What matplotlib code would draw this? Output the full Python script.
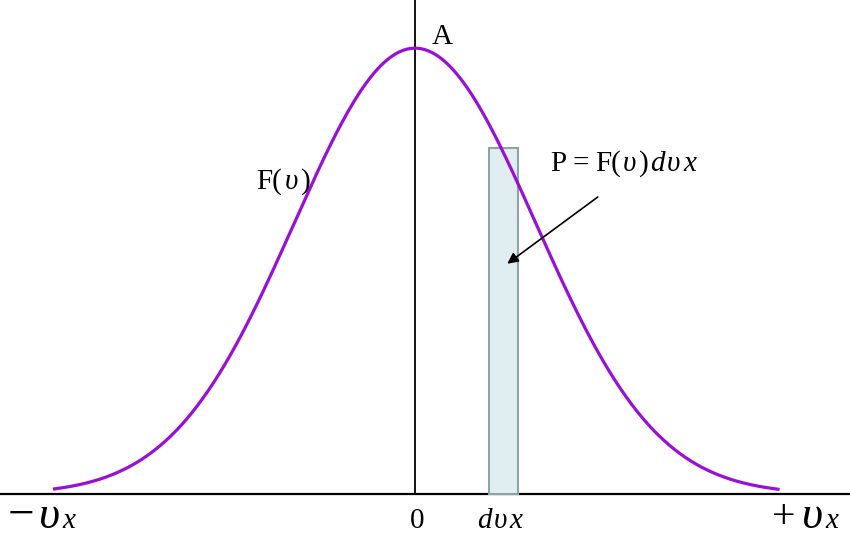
import numpy as np
import matplotlib.pyplot as plt
from matplotlib.patches import Rectangle

# распределение (нормированная гауссиана, sigma = 1)
v = np.linspace(-2.98, 3.0, 400)
F = np.exp(-v ** 2 / 2)

# полоска dv
bar_left = 0.61
bar_width = 0.24
bar_height = 0.776

plt.rcParams['font.family'] = ['Liberation Serif', 'DejaVu Serif']

fig = plt.figure(figsize=(8.5, 5.49), dpi=100)
ax = fig.add_axes([0, 0, 1, 1])
ax.set_xlim(-3.43, 3.595)
ax.set_ylim(-0.123, 1.108)
ax.axis('off')
renderer = fig.canvas.get_renderer()

# оси
ax.axhline(0, color='black', lw=1.6)
ax.axvline(0, ymin=0.1, ymax=1, color='black', lw=1.3)

ax.add_patch(Rectangle((bar_left, 0), bar_width, bar_height,
                       facecolor='#e1eef1', edgecolor='#8ea3a6', lw=1.5, zorder=2))
ax.plot(v, F, color='#9a0fd6', lw=2.3, zorder=3)

ax.annotate('', xy=(0.744, 0.513), xytext=(1.529, 0.670),
            arrowprops=dict(arrowstyle='-|>', color='black', lw=1.2,
                            mutation_scale=16), zorder=4)


def chain(x, y, pieces):
    # кусочки текста подряд, каждый со своим стилем
    for s, size, style, gap in pieces:
        t = ax.text(x, y, s, fontsize=size, style=style, va='baseline')
        bb = t.get_window_extent(renderer)
        px = ax.transData.transform((x, y))[0] + bb.width + gap
        x = ax.transData.inverted().transform((px, 0))[0]


fs = 21
base = -0.075

chain(-3.37, base, [('−', 34, 'normal', 5), ('υ', 33, 'italic', 2), ('x', fs, 'italic', 0)])
ax.text(-0.04, base, '0', fontsize=fs, va='baseline')
chain(0.51, base, [('d', fs, 'italic', 2), ('υ', fs, 'italic', 3), ('x', fs, 'italic', 0)])
chain(2.95, base, [('+', 30, 'normal', 6), ('υ', 33, 'italic', 3), ('x', fs, 'italic', 0)])

ax.text(0.14, 1.01, 'A', fontsize=fs, va='baseline')

chain(-1.31, 0.685, [('F(', fs, 'normal', 2), ('υ', fs, 'italic', 3), (')', fs, 'normal', 0)])
chain(1.12, 0.725, [('P', fs, 'normal', 6), ('=', fs, 'normal', 6), ('F(', fs, 'normal', 2),
                    ('υ', fs, 'italic', 3), (')', fs, 'normal', 1),
                    ('d', fs, 'italic', 2), ('υ', fs, 'italic', 3), ('x', fs, 'italic', 0)])

fig.savefig('out.png', dpi=100)
